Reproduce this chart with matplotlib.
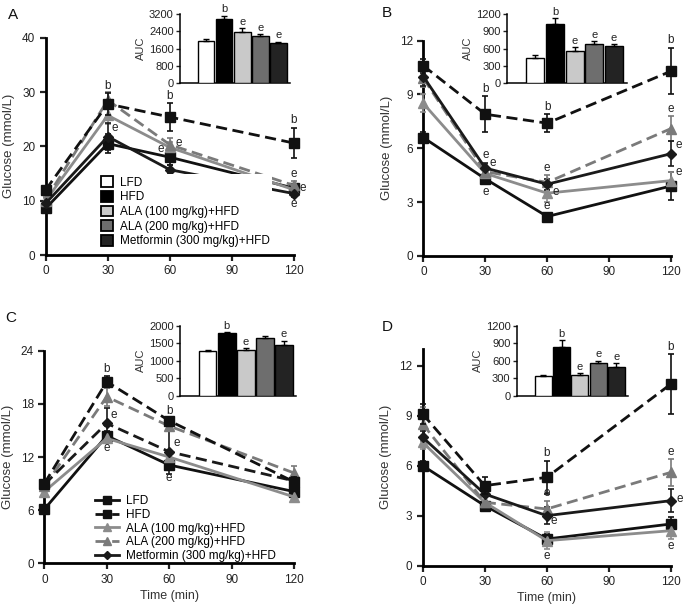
import matplotlib.pyplot as plt
from matplotlib.lines import Line2D
from matplotlib.patches import Patch

plt.rcParams['font.family'] = ['Liberation Sans', 'DejaVu Sans']

time_min = [0, 30, 60, 120]
groups = ['LFD', 'HFD', 'ALA (100 mg/kg)+HFD', 'ALA (200 mg/kg)+HFD',
          'Metformin (300 mg/kg)+HFD']

# panel A
glucose_a = [
    [8.6, 20.5, 18.0, 12.3],
    [12.0, 27.8, 25.4, 20.6],
    [10.0, 25.7, 19.8, 12.0],
    [10.2, 28.5, 20.3, 12.8],
    [9.5, 21.8, 15.7, 11.3],
]
sem_a = [
    [0.5, 1.8, 1.5, 0.8],
    [0.5, 2.0, 2.5, 2.8],
    [0.5, 1.5, 1.0, 0.8],
    [0.5, 1.5, 1.2, 0.8],
    [0.5, 2.5, 0.8, 0.6],
]
auc_a = [1950, 2980, 2350, 2180, 1860]
auc_err_a = [80, 150, 200, 80, 50]

# panel B
glucose_b = [
    [6.6, 4.3, 2.2, 3.9],
    [10.6, 7.9, 7.4, 10.3],
    [8.5, 4.6, 3.5, 4.2],
    [9.9, 4.7, 4.1, 7.1],
    [10.0, 4.9, 4.0, 5.7],
]
sem_b = [
    [0.3, 0.3, 0.2, 0.8],
    [0.4, 1.0, 0.5, 1.3],
    [0.5, 0.3, 0.5, 0.5],
    [0.5, 0.4, 0.4, 0.7],
    [0.5, 0.3, 0.3, 0.7],
]
auc_b = [440, 1030, 560, 680, 650]
auc_err_b = [40, 100, 60, 50, 30]

# panel C
glucose_c = [
    [6.1, 14.4, 11.1, 8.1],
    [9.0, 20.5, 16.1, 9.2],
    [8.1, 14.1, 12.0, 7.5],
    [8.7, 18.8, 15.5, 10.2],
    [8.9, 15.8, 12.6, 9.3],
]
sem_c = [
    [0.2, 0.5, 0.6, 0.3],
    [0.3, 0.6, 0.3, 0.5],
    [0.3, 0.4, 0.5, 0.3],
    [0.3, 1.0, 0.5, 0.8],
    [0.3, 1.7, 2.5, 0.4],
]
auc_c = [1280, 1780, 1310, 1650, 1440]
auc_err_c = [20, 40, 50, 60, 130]

# panel D
glucose_d = [
    [6.0, 3.6, 1.6, 2.5],
    [9.1, 4.8, 5.3, 10.9],
    [7.4, 3.8, 1.5, 2.1],
    [8.5, 3.8, 3.4, 5.6],
    [7.7, 4.3, 3.0, 3.9],
]
sem_d = [
    [0.3, 0.3, 0.3, 0.4],
    [0.6, 0.5, 1.0, 1.8],
    [0.4, 0.5, 0.5, 0.5],
    [1.0, 0.5, 0.5, 0.8],
    [0.4, 0.5, 0.5, 0.7],
]
auc_d = [340, 840, 350, 560, 490]
auc_err_d = [15, 110, 40, 40, 70]

# significance letters: (group, time index, letter, side)
letters_a = [(1, 1, 'b', 'up'), (1, 2, 'b', 'up'), (1, 3, 'b', 'up'),
             (4, 1, 'e', 'upright'), (3, 2, 'e', 'right'), (0, 2, 'e', 'upleft'),
             (4, 2, 'e', 'down'), (3, 3, 'e', 'up'), (2, 3, 'e', 'right'),
             (4, 3, 'e', 'down')]
letters_b = [(1, 1, 'b', 'up'), (1, 2, 'b', 'up'), (1, 3, 'b', 'up'),
             (4, 1, 'e', 'up'), (3, 1, 'e', 'upright'), (0, 1, 'e', 'down'),
             (3, 2, 'e', 'up'), (2, 2, 'e', 'right'), (0, 2, 'e', 'up'),
             (3, 3, 'e', 'up'), (4, 3, 'e', 'upright'), (2, 3, 'e', 'upright')]
letters_c = [(1, 1, 'b', 'up'), (1, 2, 'b', 'up'), (4, 1, 'e', 'upright'),
             (0, 1, 'e', 'down'), (4, 2, 'e', 'upright'), (0, 2, 'e', 'down')]
letters_d = [(1, 2, 'b', 'up'), (1, 3, 'b', 'up'), (3, 2, 'e', 'up'),
             (4, 2, 'e', 'downright'), (2, 2, 'e', 'down'), (3, 3, 'e', 'up'),
             (4, 3, 'e', 'right'), (2, 3, 'e', 'down')]
auc_letters_a = ['', 'b', 'e', 'e', 'e']
auc_letters_b = ['', 'b', 'e', 'e', 'e']
auc_letters_c = ['', 'b', 'e', '', 'e']
auc_letters_d = ['', 'b', 'e', 'e', 'e']

line_colors = ['#111111', '#111111', '#8c8c8c', '#7a7a7a', '#1a1a1a']
line_styles = ['-', '--', '-', '--', '-']
markers = ['s', 's', '^', '^', 'D']
marker_sizes = [7, 7, 7, 7, 5.5]
bar_colors = ['white', 'black', '#c9c9c9', '#6e6e6e', '#232323']

fig = plt.figure(figsize=(6.85, 6.05), dpi=100)


def draw_panel(rect, means, sems, ylim, yticks, letters, styles, xlabel):
    ax = fig.add_axes(rect)
    for i in range(len(groups)):
        dash = (0, (4, 2)) if styles[i] == '--' else '-'
        ax.errorbar(time_min, means[i], yerr=sems[i], color=line_colors[i],
                    linestyle=dash, linewidth=2.0, marker=markers[i],
                    markersize=marker_sizes[i], elinewidth=1.2, capsize=2.5,
                    capthick=1.2, clip_on=False, zorder=3 + (i == 1))
    for g, ti, letter, side in letters:
        x = time_min[ti]
        y = means[g][ti]
        e = sems[g][ti]
        if side == 'up':
            xy, off, ha, va = (x, y + e), (0, 1), 'center', 'bottom'
        elif side == 'down':
            xy, off, ha, va = (x, y - e), (0, -1), 'center', 'top'
        elif side == 'right':
            xy, off, ha, va = (x, y), (4, 1), 'left', 'center'
        elif side == 'upright':
            xy, off, ha, va = (x, y), (3, 6), 'left', 'center'
        elif side == 'downright':
            xy, off, ha, va = (x, y), (3, -4), 'left', 'center'
        else:
            xy, off, ha, va = (x, y), (-4, 6), 'right', 'center'
        ax.annotate(letter, xy, xytext=off, textcoords='offset points',
                    ha=ha, va=va, fontsize=8.5, color='#222222', zorder=6)
    ax.set_xlim(0, 120)
    ax.set_ylim(*ylim)
    ax.set_xticks([0, 30, 60, 90, 120])
    ax.set_yticks(yticks)
    for s in ['top', 'right']:
        ax.spines[s].set_visible(False)
    for s in ['left', 'bottom']:
        ax.spines[s].set_linewidth(2.0)
    ax.tick_params(width=1.6, length=4, labelsize=8.5, colors='#222222')
    ax.set_ylabel('Glucose (mmol/L)', fontsize=9.5, color='#333333', labelpad=5)
    if xlabel:
        ax.set_xlabel('Time (min)', fontsize=9, color='#333333', labelpad=3)
    return ax


def draw_inset(rect, auc, err, ylim, yticks, letters):
    ax = fig.add_axes(rect)
    xs = range(len(auc))
    ax.bar(xs, auc, width=0.92, color=bar_colors, edgecolor='black',
           linewidth=1.0, yerr=[[0] * len(err), err], capsize=2.5,
           error_kw=dict(elinewidth=1.0, capthick=1.0, ecolor='black'), zorder=3)
    for i, letter in enumerate(letters):
        if letter:
            ax.text(i, auc[i] + err[i] + ylim[1] * 0.02, letter, ha='center',
                    va='bottom', fontsize=8, color='#222222')
    ax.set_xlim(-1.45, 4.65)
    ax.set_ylim(*ylim)
    ax.set_yticks(yticks)
    ax.set_xticks([])
    for s in ['top', 'right']:
        ax.spines[s].set_visible(False)
    for s in ['left', 'bottom']:
        ax.spines[s].set_linewidth(1.1)
    ax.tick_params(width=1.0, length=3, labelsize=8, pad=1.5, colors='#222222')
    ax.set_ylabel('AUC', fontsize=8, labelpad=2, color='#333333')
    return ax


ax_a = draw_panel([0.0667, 0.5785, 0.3625, 0.3592], glucose_a, sem_a, (0, 40),
                  [0, 10, 20, 30, 40], letters_a, line_styles, False)
ax_b = draw_panel([0.618, 0.5769, 0.3616, 0.3559], glucose_b, sem_b, (0, 12),
                  [0, 3, 6, 9, 12], letters_b, line_styles, False)
styles_c = ['-', '--', '-', '--', '--']
ax_c = draw_panel([0.0647, 0.0689, 0.3645, 0.3514], glucose_c, sem_c, (0, 24),
                  [0, 6, 12, 18, 24], letters_c, styles_c, True)
ax_d = draw_panel([0.617, 0.0650, 0.3625, 0.3582], glucose_d, sem_d, (0, 13),
                  [0, 3, 6, 9, 12], letters_d, line_styles, True)

draw_inset([0.2628, 0.8628, 0.1606, 0.114], auc_a, auc_err_a, (0, 3200),
           [0, 800, 1600, 2400, 3200], auc_letters_a)
draw_inset([0.740, 0.8628, 0.175, 0.114], auc_b, auc_err_b, (0, 1200),
           [0, 300, 600, 900, 1200], auc_letters_b)
draw_inset([0.2628, 0.346, 0.170, 0.1157], auc_c, auc_err_c, (0, 2000),
           [0, 500, 1000, 1500, 2000], auc_letters_c)
draw_inset([0.7543, 0.346, 0.163, 0.1157], auc_d, auc_err_d, (0, 1200),
           [0, 300, 600, 900, 1200], auc_letters_d)

# legend A: bar swatches on white, covering the lines
patches = [Patch(facecolor=c, edgecolor='black', linewidth=1.3) for c in bar_colors]
leg_a = ax_a.legend(patches, groups, loc='upper left', bbox_to_anchor=(0.19, 0.40),
                    fontsize=8.5, frameon=True, facecolor='white', edgecolor='none',
                    framealpha=1, fancybox=False, handlelength=1.0, handleheight=1.0,
                    handletextpad=0.6, labelspacing=0.2, borderpad=0.2)
leg_a.set_zorder(10)

# legend C: line handles
handles = [Line2D([], [], color=line_colors[i], linestyle=(0, (4, 2)) if line_styles[i] == '--' else '-',
                  linewidth=2.0, marker=markers[i], markersize=marker_sizes[i] - 1.5)
           for i in range(len(groups))]
ax_c.legend(handles, groups, loc='upper left', bbox_to_anchor=(0.17, 0.36),
            fontsize=8.5, frameon=False, handlelength=2.0, handletextpad=0.6,
            labelspacing=0.15, borderpad=0.2)

for label, x, y in [('A', 0.012, 0.975), ('B', 0.558, 0.978), ('C', 0.008, 0.474), ('D', 0.558, 0.46)]:
    fig.text(x, y, label, fontsize=11, ha='left', va='center', color='#111111')

plt.savefig('out.png', dpi=100)
plt.close()
